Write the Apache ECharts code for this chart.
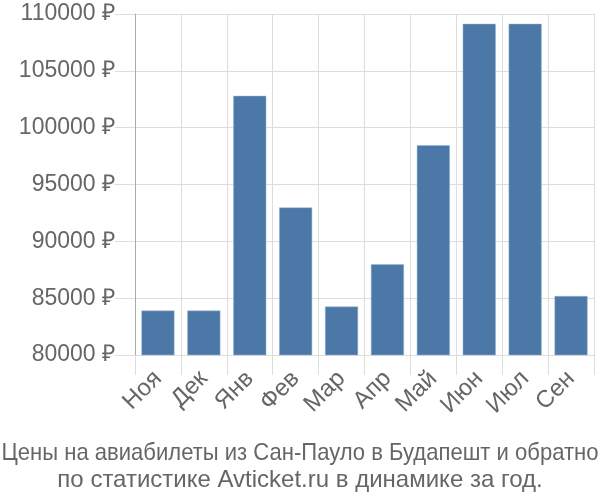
<!DOCTYPE html>
<html>
<head>
<meta charset="utf-8">
<script src="https://cdn.jsdelivr.net/npm/echarts@6/dist/echarts.min.js"></script>
<style>html,body{margin:0;padding:0;background:#fff}#c{width:600px;height:500px}</style>
</head>
<body>
<div id="c"></div>
<script>
const categories = ['Ноя','Дек','Янв','Фев','Мар','Апр','Май','Июн','Июл','Сен'];
const prices = [83910, 83910, 102800, 92980, 84260, 87980, 98460, 109140, 109140, 85190];
const yTicks = [80000, 85000, 90000, 95000, 100000, 105000, 110000];
const titleLines = ['Цены на авиабилеты из Сан-Пауло в Будапешт и обратно', 'по статистике Avticket.ru в динамике за год.'];

const font = '"Liberation Sans", Arial, sans-serif';
const titleFont = '24px ' + font;
const maxTitleWidth = 597;
const measureCtx = document.createElement('canvas').getContext('2d');
measureCtx.font = titleFont;
function fitScale(t) {
  const w = measureCtx.measureText(t).width;
  return w > maxTitleWidth ? maxTitleWidth / w : 1;
}

const chart = echarts.init(document.getElementById('c'), null, {renderer: 'canvas'});
chart.setOption({
  animation: false,
  graphic: titleLines.map((t, i) => ({
    type: 'text',
    x: 300,
    y: 453 + i * 27,
    scaleX: fitScale(t),
    style: {text: t, font: titleFont, fill: '#666', align: 'center', verticalAlign: 'middle'}
  })),
  grid: {left: 135, right: 6, top: 14, bottom: 145},
  xAxis: {
    type: 'category',
    data: categories,
    axisLine: {show: true, lineStyle: {color: '#ddd'}},
    axisTick: {show: true, length: 20, lineStyle: {color: '#ddd'}},
    splitLine: {show: true, lineStyle: {color: '#ddd'}},
    axisLabel: {rotate: 45, fontFamily: font, fontSize: 24, color: '#666', margin: 20}
  },
  yAxis: {
    type: 'value',
    min: yTicks[0],
    max: yTicks[yTicks.length - 1],
    interval: 5000,
    axisLine: {show: true, lineStyle: {color: '#aaa'}},
    axisTick: {show: true, length: 20, lineStyle: {color: '#ddd'}},
    splitLine: {show: true, lineStyle: {color: '#ddd'}},
    axisLabel: {fontFamily: font, fontSize: 23, color: '#666', margin: 20, formatter: v => v + ' ₽'}
  },
  series: [{
    type: 'bar',
    data: prices,
    barCategoryGap: '28%',
    itemStyle: {color: '#4c78a8', borderColor: '#9fb6d2', borderWidth: 0.5}
  }]
});
</script>
</body>
</html>
